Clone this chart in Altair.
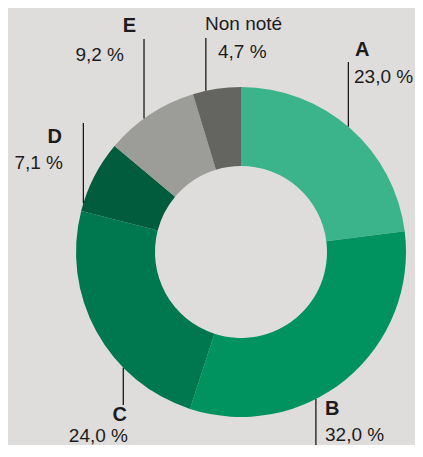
import math
import altair as alt
import pandas as pd

# ---- data ----
categories = ["A", "B", "C", "D", "E", "Non noté"]
shares = [23.0, 32.0, 24.0, 7.1, 9.2, 4.7]
pct_labels = ["23,0 %", "32,0 %", "24,0 %", "7,1 %", "9,2 %", "4,7 %"]
colors = ["#3bb48c", "#00935f", "#00784f", "#005c3d", "#9c9c98", "#646561"]

# ---- layout (page pixels) ----
W, H = 407, 437
MARGIN = 8
CX, CY = 241, 252
R_OUT, R_IN = 165, 86
leader_angle = [40.6, 153.0, 225.5, 287.2, 324.0, 347.7]
leader_end_y = [62, 460, 405, 123, 39, 38]
name_pos = [(355, 56, "left"), (325, 415, "left"), (127, 421, "right"),
            (62, 143, "right"), (136, 32, "right"), (205, 30, "left")]
pct_pos = [(354, 83, "left"), (325, 441, "left"), (128, 442, "right"),
           (63, 169, "right"), (124, 61, "right"), (218, 58, "left")]

df = pd.DataFrame({"cat": categories, "value": shares, "idx": range(len(categories))})

rules = []
for a, ye in zip(leader_angle, leader_end_y):
    rad = math.radians(a)
    x = CX + R_OUT * math.sin(rad)
    y = CY - R_OUT * math.cos(rad)
    rules.append({"x": x - MARGIN, "y": y - MARGIN, "y2": ye - MARGIN})
rules_df = pd.DataFrame(rules)

texts = []
for cat, (x, y, al) in zip(categories, name_pos):
    texts.append({"x": x - MARGIN, "y": y - MARGIN, "t": cat, "align": al,
                  "bold": cat != "Non noté", "size": 20 if cat != "Non noté" else 19})
for p, (x, y, al) in zip(pct_labels, pct_pos):
    texts.append({"x": x - MARGIN, "y": y - MARGIN, "t": p, "align": al, "bold": False, "size": 19})
texts_df = pd.DataFrame(texts)

xs = alt.Scale(domain=[0, W], nice=False, zero=False)
ys = alt.Scale(domain=[0, H], nice=False, zero=False, reverse=True)

arc = alt.Chart(df).mark_arc(outerRadius=R_OUT, innerRadius=R_IN).encode(
    theta=alt.Theta("value:Q", stack=True),
    color=alt.Color("cat:N", scale=alt.Scale(domain=categories, range=colors), legend=None),
    order=alt.Order("idx:Q"),
    x=alt.value(CX - MARGIN),
    y=alt.value(CY - MARGIN),
)

rule = alt.Chart(rules_df).mark_rule(color="#1a1a1a", strokeWidth=1.3).encode(
    x=alt.X("x:Q", scale=xs, axis=None),
    y=alt.Y("y:Q", scale=ys, axis=None),
    y2="y2:Q",
)

layers = [arc, rule]
for al in ["left", "right"]:
    for bold in [True, False]:
        for size in [19, 20]:
            sub = texts_df[(texts_df["align"] == al) & (texts_df["bold"] == bold) & (texts_df["size"] == size)]
            if len(sub) == 0:
                continue
            layers.append(
                alt.Chart(sub).mark_text(
                    align=al, baseline="alphabetic", font="Liberation Sans",
                    fontSize=size, fontWeight="bold" if bold else "normal", color="#1c1c1c",
                ).encode(
                    x=alt.X("x:Q", scale=xs, axis=None),
                    y=alt.Y("y:Q", scale=ys, axis=None),
                    text="t:N",
                )
            )

chart = alt.layer(*layers).properties(
    width=W, height=H, padding=0, autosize=alt.AutoSizeParams(type="none"),
    background="#dfdddb",
).configure_view(stroke=None)

chart.save("out.html", embed_options={"renderer": "svg", "actions": False})
